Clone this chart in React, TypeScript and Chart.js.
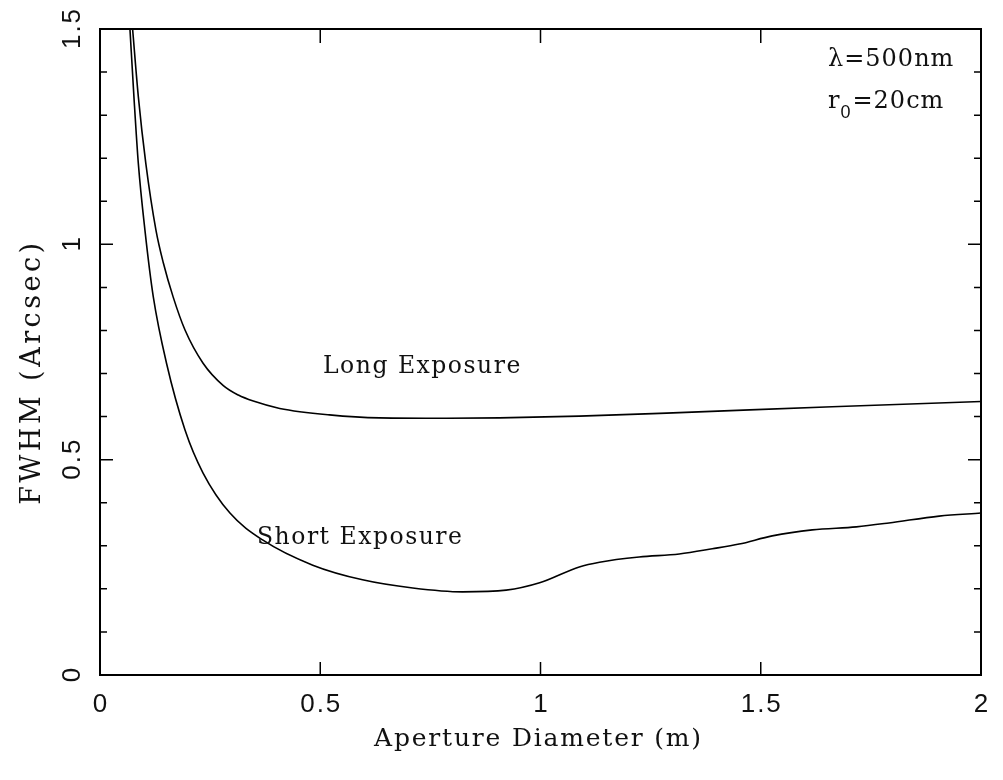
import React, { useEffect, useRef } from "react";
import { Chart, registerables } from "chart.js";

Chart.register(...registerables);

// Long exposure FWHM (arcsec) vs aperture diameter (m)
const longX = [0.074, 0.087, 0.104, 0.127, 0.144, 0.166, 0.193, 0.234, 0.28, 0.314, 0.348, 0.408, 0.521, 0.635, 0.787, 0.907, 1.088, 1.286, 1.662, 2.0];
const longY = [1.5, 1.343, 1.188, 1.033, 0.956, 0.878, 0.801, 0.724, 0.672, 0.65, 0.636, 0.619, 0.604, 0.597, 0.596, 0.597, 0.601, 0.608, 0.623, 0.635];

// Short exposure
const shortX = [0.068, 0.077, 0.087, 0.102, 0.121, 0.151, 0.193, 0.234, 0.295, 0.37, 0.483, 0.596, 0.71, 0.823, 0.922, 0.998, 1.088, 1.134, 1.224, 1.315, 1.39, 1.451, 1.526, 1.617, 1.717, 1.791, 1.905, 2.0];
const shortY = [1.5, 1.343, 1.188, 1.033, 0.878, 0.724, 0.569, 0.469, 0.376, 0.313, 0.255, 0.221, 0.202, 0.193, 0.197, 0.214, 0.251, 0.262, 0.274, 0.281, 0.293, 0.304, 0.323, 0.337, 0.344, 0.353, 0.369, 0.376];

const xTickValues = [0, 0.5, 1, 1.5, 2];
const xTickLabels = ["0", "0.5", "1", "1.5", "2"];
const yTickValues = [0, 0.5, 1, 1.5];
const yTickLabels = ["0", "0.5", "1", "1.5"];
const yMinorStep = 0.1;

const xTitle = "Aperture Diameter (m)";
const yTitle = "FWHM (Arcsec)";
const longLabel = "Long Exposure";
const shortLabel = "Short Exposure";

const SANS = '"Liberation Sans", Arial, sans-serif';
const SERIF = '"DejaVu Serif", serif';

const framePlugin = {
  id: "framePlugin",
  afterDraw(chart: any) {
    const { ctx, chartArea } = chart;
    const xs = chart.scales.x;
    const ys = chart.scales.y;
    const { left, right, top, bottom } = chartArea;
    ctx.save();
    ctx.strokeStyle = "#000";
    ctx.fillStyle = "#111";
    ctx.lineWidth = 2;
    ctx.strokeRect(left, top, right - left, bottom - top);

    ctx.lineWidth = 1.5;
    // x ticks (top and bottom), majors only
    xTickValues.forEach((v) => {
      if (v === 0 || v === 2) return;
      const px = xs.getPixelForValue(v);
      ctx.beginPath();
      ctx.moveTo(px, bottom);
      ctx.lineTo(px, bottom - 13);
      ctx.moveTo(px, top);
      ctx.lineTo(px, top + 14);
      ctx.stroke();
    });
    // y ticks
    for (let i = 1; i < 15; i++) {
      const v = i * yMinorStep;
      const py = ys.getPixelForValue(v);
      const major = i % 5 === 0;
      const len = major ? 13 : 7;
      ctx.beginPath();
      ctx.moveTo(left, py);
      ctx.lineTo(left + len, py);
      ctx.moveTo(right, py);
      ctx.lineTo(right - len, py);
      ctx.stroke();
    }

    // tick labels
    ctx.font = `26px ${SANS}`;
    (ctx as any).letterSpacing = "2px";
    ctx.textAlign = "center";
    ctx.textBaseline = "alphabetic";
    xTickValues.forEach((v, i) => {
      const px = xs.getPixelForValue(v);
      ctx.fillText(xTickLabels[i], px + 1, 712);
    });
    yTickValues.forEach((v, i) => {
      const py = ys.getPixelForValue(v);
      ctx.save();
      ctx.translate(80, py);
      ctx.rotate(-Math.PI / 2);
      ctx.fillText(yTickLabels[i], 1, 0);
      ctx.restore();
    });

    // axis titles
    ctx.font = `25px ${SERIF}`;
    (ctx as any).letterSpacing = "1.8px";
    ctx.fillText(xTitle, (left + right) / 2 - 2, 746);
    ctx.save();
    ctx.translate(40, 372);
    ctx.rotate(-Math.PI / 2);
    ctx.font = `27px ${SERIF}`;
    (ctx as any).letterSpacing = "3.5px";
    ctx.fillText(yTitle, 0, 0);
    ctx.restore();

    // curve labels
    ctx.font = `23.5px ${SERIF}`;
    (ctx as any).letterSpacing = "1.5px";
    ctx.textAlign = "left";
    ctx.fillText(longLabel, 323, 373);
    ctx.fillText(shortLabel, 257, 544);

    // parameters
    ctx.font = `24px ${SERIF}`;
    (ctx as any).letterSpacing = "1px";
    ctx.fillText("\u03bb=500nm", 828, 66);
    ctx.fillText("r", 828, 108);
    const rw = ctx.measureText("r").width;
    ctx.font = `18px ${SANS}`;
    (ctx as any).letterSpacing = "0px";
    ctx.fillText("0", 828 + rw, 118);
    const zw = ctx.measureText("0").width;
    ctx.font = `24px ${SERIF}`;
    (ctx as any).letterSpacing = "1px";
    ctx.fillText("=20cm", 828 + rw + zw + 2, 108);

    ctx.restore();
  },
};

export default function App() {
  const canvasRef = useRef<HTMLCanvasElement | null>(null);

  useEffect(() => {
    if (!canvasRef.current) return;
    const chart = new Chart(canvasRef.current, {
      type: "line",
      data: {
        datasets: [
          {
            label: longLabel,
            data: longX.map((x, i) => ({ x, y: longY[i] })),
            borderColor: "#000",
            borderWidth: 1.6,
            pointRadius: 0,
            cubicInterpolationMode: "monotone",
            fill: false,
          },
          {
            label: shortLabel,
            data: shortX.map((x, i) => ({ x, y: shortY[i] })),
            borderColor: "#000",
            borderWidth: 1.6,
            pointRadius: 0,
            cubicInterpolationMode: "monotone",
            fill: false,
          },
        ],
      },
      options: {
        responsive: false,
        animation: false,
        layout: { padding: { left: 100, right: 22, top: 29, bottom: 105 } },
        plugins: { legend: { display: false }, tooltip: { enabled: false } },
        scales: {
          x: { type: "linear", min: 0, max: 2, display: false },
          y: { type: "linear", min: 0, max: 1.5, display: false },
        },
      },
      plugins: [framePlugin],
    } as any);
    return () => chart.destroy();
  }, []);

  return (
    <div style={{ position: "fixed", left: 0, top: 0, width: 1003, height: 780, background: "#fff" }}>
      <canvas ref={canvasRef} width={1003} height={780} />
    </div>
  );
}
